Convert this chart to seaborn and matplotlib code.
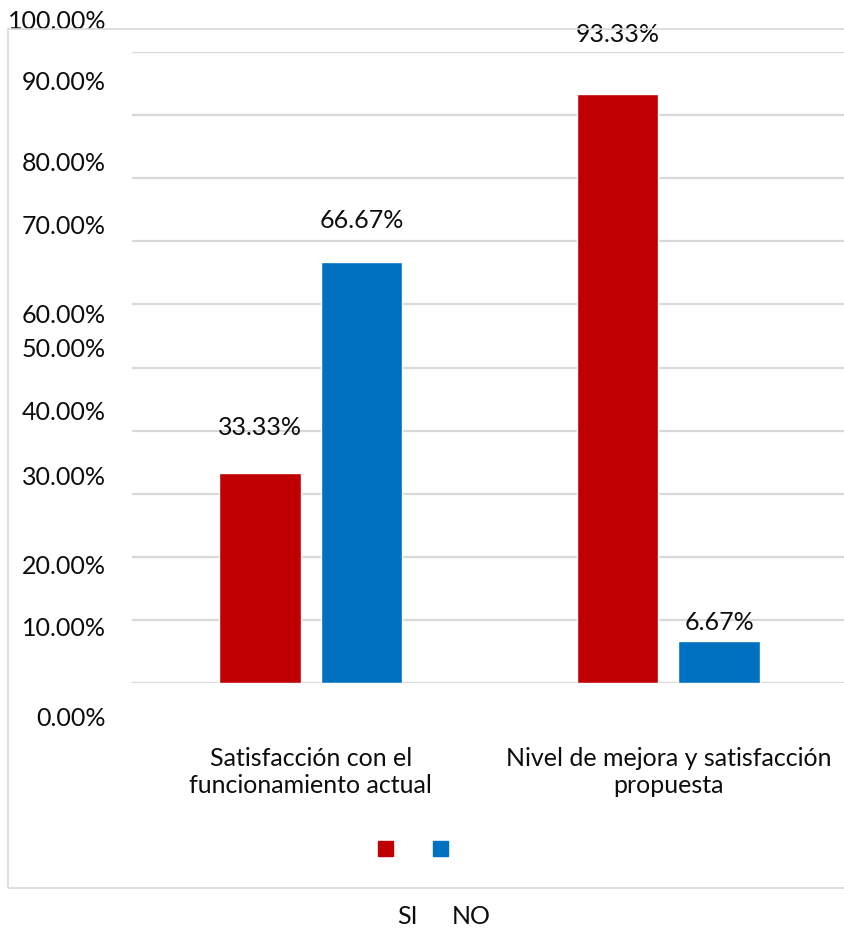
import numpy as np
import pandas as pd
import matplotlib
matplotlib.use("Agg")
import matplotlib.pyplot as plt
import matplotlib.transforms as mtransforms
from matplotlib.lines import Line2D
from matplotlib.patches import Rectangle
import seaborn as sns

# --- data -------------------------------------------------------------
categories = ["Satisfacción con el\nfuncionamiento actual",
              "Nivel de mejora y satisfacción\npropuesta"]
series_names = ["SI", "NO"]
si_values = [33.33, 93.33]
no_values = [66.67, 6.67]
colors = ["#C00000", "#0070C0"]

tick_values = [0, 10, 20, 30, 40, 50, 60, 70, 80, 90, 100]
tick_texts = [f"{v:.2f}%" for v in tick_values]
# vertical placement of each axis label (data units)
tick_text_pos = [-5.7, 8.6, 18.5, 32.6, 42.8, 52.8, 58.3, 72.3, 82.4, 95.1, 104.8]
# vertical offset of each value label above its bar (pixels), SI then NO
label_offsets = [[45, 60], [42, 18]]

df = pd.DataFrame({
    "categoria": categories * 2,
    "respuesta": [series_names[0]] * 2 + [series_names[1]] * 2,
    "valor": si_values + no_values,
})

# --- figure -----------------------------------------------------------
sns.set_theme(style="white")
plt.rcParams["font.family"] = ["Lato", "DejaVu Sans"]
FS = 18
W, H = 844, 934
fig = plt.figure(figsize=(W / 100, H / 100), dpi=100)
fig.patch.set_facecolor("white")

# outer chart frame
fig.patches.append(Rectangle((8 / W, 1 - 888 / H), 1.0, (888 - 29) / H,
                             transform=fig.transFigure, fill=False,
                             edgecolor="#d9d9d9", lw=1.2, zorder=0))

left, right, top, bottom = 132, 847, 52, 683
ax = fig.add_axes([left / W, 1 - bottom / H, (right - left) / W, (bottom - top) / H])

sns.barplot(data=df, x="categoria", y="valor", hue="respuesta",
            hue_order=series_names, palette=colors, width=0.568, gap=0.2,
            saturation=1, legend=False, ax=ax, zorder=3)

ax.set_ylim(0, 100)
ax.set_yticks(tick_values)
ax.yaxis.grid(True, color="#d9d9d9", lw=1.6, zorder=0)
ax.set_axisbelow(True)
ax.tick_params(axis="y", left=False, labelleft=False)
ax.tick_params(axis="x", bottom=False, labelsize=FS, pad=40, colors="#0d0d0d")
ax.set_xlabel("")
ax.set_ylabel("")
for s in ax.spines.values():
    s.set_visible(False)
for lbl in ax.get_xticklabels():
    lbl.set_linespacing(1.2)

# y-axis labels
trans = mtransforms.blended_transform_factory(fig.transFigure, ax.transData)
for txt, pos in zip(tick_texts, tick_text_pos):
    ax.text(106 / W, pos, txt, transform=trans, ha="right", va="center",
            fontsize=FS, color="#0d0d0d", clip_on=False)

# value labels
all_values = [si_values, no_values]
for si, cont in enumerate(ax.containers):
    for ci, bar in enumerate(cont):
        v = all_values[si][ci]
        ax.annotate(f"{v:.2f}%", xy=(bar.get_x() + bar.get_width() / 2, v),
                    xytext=(0, label_offsets[si][ci]), textcoords="offset pixels",
                    ha="center", va="center", fontsize=FS, color="#0d0d0d",
                    annotation_clip=False)

# legend markers and names
handles = [Line2D([], [], marker="s", ls="", color=c, markersize=10.8) for c in colors]
fig.legend(handles, ["", ""], ncol=2, loc="center",
           bbox_to_anchor=(412 / W, 1 - 848.5 / H), bbox_transform=fig.transFigure,
           frameon=False, fontsize=10, handlelength=1, handletextpad=0,
           columnspacing=2.96)
fig.text(407 / W, 1 - 917 / H, series_names[0], ha="center", va="center",
         fontsize=FS, color="#0d0d0d")
fig.text(471.5 / W, 1 - 917 / H, series_names[1], ha="center", va="center",
         fontsize=FS, color="#0d0d0d")

fig.savefig("out.png", dpi=100, facecolor="white")
